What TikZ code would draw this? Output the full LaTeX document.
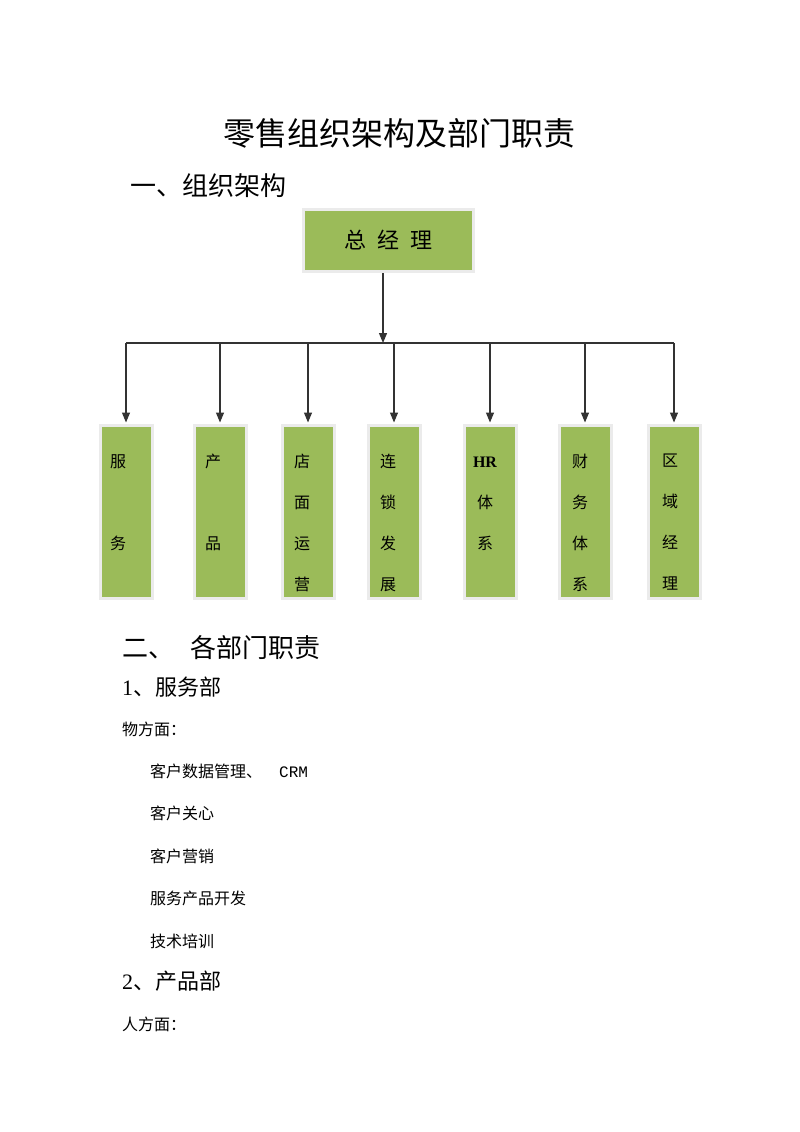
\documentclass[tikz,border=0pt]{standalone}
\usepackage{fontspec}
\setmainfont{Liberation Serif}
\newfontfamily\cjk{Noto Sans CJK SC}
\newfontfamily\mono{Liberation Mono}
\usetikzlibrary{arrows.meta}
\usetikzlibrary{shadows}
\definecolor{deptgreen}{RGB}{155,187,89}
\tikzset{
  greenbox/.style={draw=white!92!black, line width=3pt, fill=deptgreen, inner sep=0pt,
    drop shadow={shadow xshift=1.5pt, shadow yshift=-1.5pt, fill=black!40}},
  deptbox/.style={greenbox, minimum width=52pt, minimum height=173pt},
  link/.style={draw=black!80, line width=1.2pt},
  tip/.style={arrows={-Triangle[width=8pt,length=10pt]}, shorten >=1.5pt},
  cn/.style={font=\cjk\fontsize{#1}{#1}\selectfont, inner sep=0pt},
  line/.style={cn=16, anchor=west},
}

\begin{document}
\begin{tikzpicture}[x=1pt, y=-1pt]
    \useasboundingbox[fill=white] (0,0) rectangle (800,1132);

    \node[cn=32] (title) at (399,133) {零售组织架构及部门职责};
    \node[cn=26, anchor=west] (sec1) at (130,186) {一、组织架构};

    \node[greenbox, minimum width=170pt, minimum height=62pt] (mgr) at (388.5,240.5)
      {\cjk\fontsize{22}{22}\selectfont 总\hspace{11pt}经\hspace{11pt}理};

    \foreach \i/\x/\tx/\txt in {1/126/118/{服\\[41pt]务}, 2/220/213/{产\\[41pt]品},
        3/308/302/{店\\面\\运\\营}, 4/394/388/{连\\锁\\发\\展},
        5/490/485/{{\rmfamily\bfseries HR}\vphantom{体}\\体\\系}, 6/585/580/{财\\务\\体\\系},
        7/674/670/{区\\域\\经\\理}} {
      \node[deptbox] (d\i) at (\x,512) {};
      \node[font=\cjk\fontsize{16}{41}\selectfont, align=center, inner sep=0pt, anchor=north] (t\i) at (\tx,454) {\txt};
    }

    \coordinate (bus) at (383,343);
    \coordinate (busL) at (d1.north |- bus);
    \coordinate (busR) at (d7.north |- bus);
    \draw[link, arrows={-Triangle[width=8pt,length=10pt]}] (mgr.south -| bus) -- (bus);
    \draw[link] (busL) -- (busR);
    \foreach \i in {1,...,7}
      \draw[link, tip] (busL -| d\i.north) -- (d\i.north);

    \node[cn=26, anchor=west] (sec2) at (122,648) {二、\hspace{16pt}各部门职责};
    \node[cn=22, anchor=west] (sub1) at (122,687) {{\rmfamily 1}、服务部};
    \node[line] (svc) at (122,729) {物方面：};
    \node[line] (svc1) at (150,771) {客户数据管理、\hspace{17pt}{\mono CRM}};
    \node[line] (svc2) at (150,813) {客户关心};
    \node[line] (svc3) at (150,856) {客户营销};
    \node[line] (svc4) at (150,898) {服务产品开发};
    \node[line] (svc5) at (150,941) {技术培训};
    \node[cn=22, anchor=west] (sub2) at (122,981) {{\rmfamily 2}、产品部};
    \node[line] (prd) at (122,1024) {人方面：};
\end{tikzpicture}
\end{document}
